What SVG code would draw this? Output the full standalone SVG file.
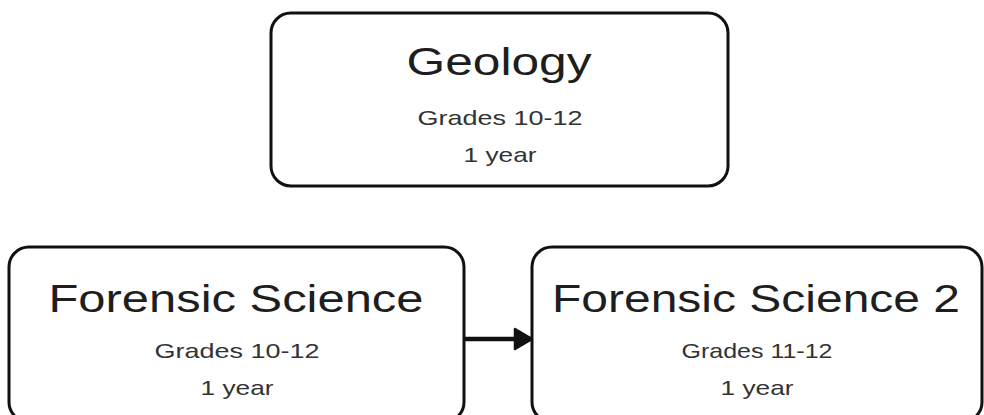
<svg xmlns="http://www.w3.org/2000/svg" width="984" height="415" viewBox="0 0 984 415">
<defs>
<style>
.box{fill:#fff;stroke:#111;stroke-width:3}
.t{font-family:"Liberation Sans",Arial,sans-serif;fill:#1e1e1e;text-anchor:middle}
.title{font-size:39px}
.sub{font-size:21px;fill:#333}
.conn{stroke:#111;stroke-width:4.5;fill:none}
</style>
<marker id="ah" viewBox="0 0 20 24" refX="19" refY="12" markerWidth="20" markerHeight="24" orient="auto" markerUnits="userSpaceOnUse">
<path d="M2,2 L19,12 L2,22 Z" fill="#111" stroke="#111" stroke-width="2.5" stroke-linejoin="round"/>
</marker>
</defs>
<rect width="984" height="415" fill="#fff"/>
<g id="geology">
<rect class="box" x="271" y="13" width="457" height="173" rx="20"/>
<text class="t title" x="499" y="75" textLength="185" lengthAdjust="spacingAndGlyphs">Geology</text>
<text class="t sub" x="500" y="125" textLength="165" lengthAdjust="spacingAndGlyphs">Grades 10-12</text>
<text class="t sub" x="500" y="162" textLength="73" lengthAdjust="spacingAndGlyphs">1 year</text>
</g>
<g id="forensic1">
<rect class="box" x="9" y="247" width="455" height="175" rx="20"/>
<text class="t title" x="236" y="312" textLength="375" lengthAdjust="spacingAndGlyphs">Forensic Science</text>
<text class="t sub" x="237" y="358" textLength="165" lengthAdjust="spacingAndGlyphs">Grades 10-12</text>
<text class="t sub" x="237" y="395" textLength="73" lengthAdjust="spacingAndGlyphs">1 year</text>
</g>
<g id="forensic2">
<rect class="box" x="532" y="247" width="450" height="175" rx="20"/>
<text class="t title" x="756" y="312" textLength="408" lengthAdjust="spacingAndGlyphs">Forensic Science 2</text>
<text class="t sub" x="757" y="358" textLength="151" lengthAdjust="spacingAndGlyphs">Grades 11-12</text>
<text class="t sub" x="757" y="395" textLength="73" lengthAdjust="spacingAndGlyphs">1 year</text>
</g>
<g id="connectors">
<line class="conn" x1="465" y1="339" x2="532" y2="339" marker-end="url(#ah)"/>
</g>
</svg>
